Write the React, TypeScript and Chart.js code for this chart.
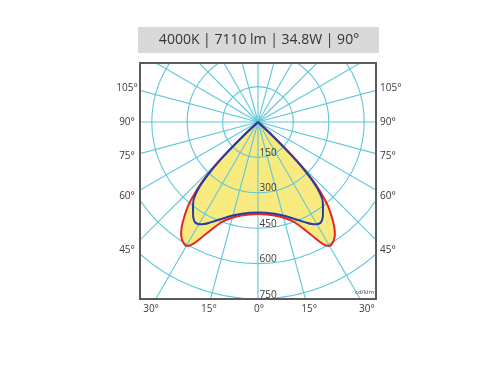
import React, { useEffect, useRef } from 'react';
import { Chart, registerables } from 'chart.js';

Chart.register(...registerables);

// ---- data ----
const titleText = '4000K | 7110 lm | 34.8W | 90°';
const unitText = 'cd/klm';
// gamma angles (deg from nadir)
const gammaAngles = [0, 5, 10, 15, 20, 25, 28, 30, 32, 34, 36, 38, 40, 42, 43.5, 45, 46.5, 48];
// C0-C180 plane (red), cd/klm
const planeC0 = [390, 393, 402, 420, 452, 525, 585, 606, 600, 582, 550, 506, 458, 389, 325, 229, 101, 0];
// C90-C270 plane (blue), cd/klm
const planeC90 = [383, 386, 395, 410, 435, 468, 490, 500, 502, 490, 468, 447, 422, 372, 310, 225, 98, 0];
const ringValues = [150, 300, 450, 600, 750];
const sideAngles = [105, 90, 75, 60, 45];
const bottomAngles = [-30, -15, 0, 15, 30];

const FONT = '"Open Sans", "DejaVu Sans", sans-serif';

function toXY(angles: number[], values: number[]) {
  const pts: { x: number; y: number }[] = [];
  for (let i = angles.length - 1; i >= 0; i--) {
    const a = (-angles[i] * Math.PI) / 180;
    pts.push({ x: values[i] * Math.sin(a), y: -values[i] * Math.cos(a) });
  }
  for (let i = 1; i < angles.length; i++) {
    const a = (angles[i] * Math.PI) / 180;
    pts.push({ x: values[i] * Math.sin(a), y: -values[i] * Math.cos(a) });
  }
  return pts;
}

export default function App() {
  const ref = useRef<HTMLCanvasElement>(null);
  useEffect(() => {
    const canvas = ref.current!;
    const gridColor = '#5ec7da';
    const textColor = '#3a3a3a';

    const polarPlugin = {
      id: 'polarGrid',
      beforeDatasetsDraw(chart: any) {
        const { ctx, chartArea: a, scales } = chart;
        const xs = scales.x, ys = scales.y;
        const cx = xs.getPixelForValue(0);
        const cy = ys.getPixelForValue(0);
        const k = (xs.getPixelForValue(1000) - cx) / 1000;
        ctx.save();
        ctx.beginPath();
        ctx.rect(a.left, a.top, a.right - a.left, a.bottom - a.top);
        ctx.clip();
        ctx.strokeStyle = gridColor;
        ctx.lineWidth = 1.1;
        const rings = [...ringValues, ringValues[ringValues.length - 1] + 150];
        for (const v of rings) {
          ctx.beginPath();
          ctx.arc(cx, cy, v * k, 0, Math.PI * 2);
          ctx.stroke();
        }
        const len = Math.hypot(a.right - a.left, a.bottom - a.top);
        for (let d = 0; d < 360; d += 15) {
          const r = ((d + 0.02) * Math.PI) / 180;
          ctx.beginPath();
          ctx.moveTo(cx, cy);
          ctx.lineTo(cx + Math.cos(r) * len, cy + Math.sin(r) * len);
          ctx.stroke();
        }
        ctx.restore();
      },
      afterDatasetsDraw(chart: any) {
        const { ctx, chartArea: a, scales } = chart;
        const xs = scales.x, ys = scales.y;
        const cx = xs.getPixelForValue(0);
        const cy = ys.getPixelForValue(0);
        const k = (xs.getPixelForValue(1000) - cx) / 1000;
        ctx.save();
        // frame
        ctx.strokeStyle = '#5a5a5a';
        ctx.lineWidth = 2;
        ctx.strokeRect(a.left, a.top, a.right - a.left, a.bottom - a.top);
        // ring labels
        ctx.fillStyle = textColor;
        ctx.font = `10px ${FONT}`;
        ctx.textAlign = 'left';
        ctx.textBaseline = 'alphabetic';
        for (const v of ringValues) {
          ctx.fillText(String(v), cx + 1.5, cy + v * k - 1.5);
        }
        // side angle labels
        ctx.font = `10px ${FONT}`;
        ctx.textBaseline = 'middle';
        const sideDx = (a.right - a.left) / 2 + 10;
        for (const ang of sideAngles) {
          const t = ((ang - 90) * Math.PI) / 180;
          const py = cy - Math.tan(t) * sideDx;
          ctx.textAlign = 'center';
          ctx.fillText(`${ang}°`, a.left - 13, py);
          ctx.textAlign = 'left';
          ctx.fillText(`${ang}°`, a.right + 4, py);
        }
        // bottom angle labels
        ctx.textAlign = 'center';
        const bottomDy = a.bottom - cy + 10;
        for (const ang of bottomAngles) {
          const px = cx + Math.tan((ang * Math.PI) / 180) * bottomDy;
          ctx.fillText(`${Math.abs(ang)}°`, px + 1, a.bottom + 10);
        }
        // unit
        ctx.font = `6px ${FONT}`;
        ctx.textAlign = 'right';
        ctx.textBaseline = 'alphabetic';
        ctx.fillText(unitText, a.right - 2, a.bottom - 5);
        // title box
        ctx.fillStyle = '#d9d9d9';
        ctx.fillRect(138, 27, 241, 26);
        ctx.fillStyle = '#333333';
        ctx.font = `14px ${FONT}`;
        ctx.textAlign = 'center';
        ctx.textBaseline = 'middle';
        ctx.fillText(titleText, 259, 40.5);
        ctx.restore();
      },
    };

    const chart = new Chart(canvas, {
      type: 'scatter',
      data: {
        datasets: [
          {
            label: 'C90-C270',
            data: toXY(gammaAngles, planeC90),
            showLine: true,
            borderColor: '#2a3c9c',
            borderWidth: 2,
            backgroundColor: '#f9ea80',
            fill: 'shape',
            pointRadius: 0,
            tension: 0.4,
          },
          {
            label: 'C0-C180',
            data: toXY(gammaAngles, planeC0),
            showLine: true,
            borderColor: '#e3262b',
            borderWidth: 2,
            backgroundColor: '#f9ea80',
            fill: 'shape',
            pointRadius: 0,
            tension: 0.4,
          },
        ],
      },
      options: {
        responsive: false,
        animation: false,
        layout: { padding: { left: 140, top: 63, right: 124, bottom: 71 } },
        scales: {
          x: { type: 'linear', min: -500, max: 500, display: false },
          y: { type: 'linear', min: -750, max: 250, display: false },
        },
        plugins: {
          legend: { display: false },
          tooltip: { enabled: false },
          filler: { drawTime: 'beforeDatasetsDraw' },
        },
      } as any,
      plugins: [polarPlugin],
    });
    return () => chart.destroy();
  }, []);

  return (
    <div style={{ position: 'fixed', left: 0, top: 0, width: 500, height: 370, background: '#fff' }}>
      <canvas ref={ref} width={500} height={370} />
    </div>
  );
}
